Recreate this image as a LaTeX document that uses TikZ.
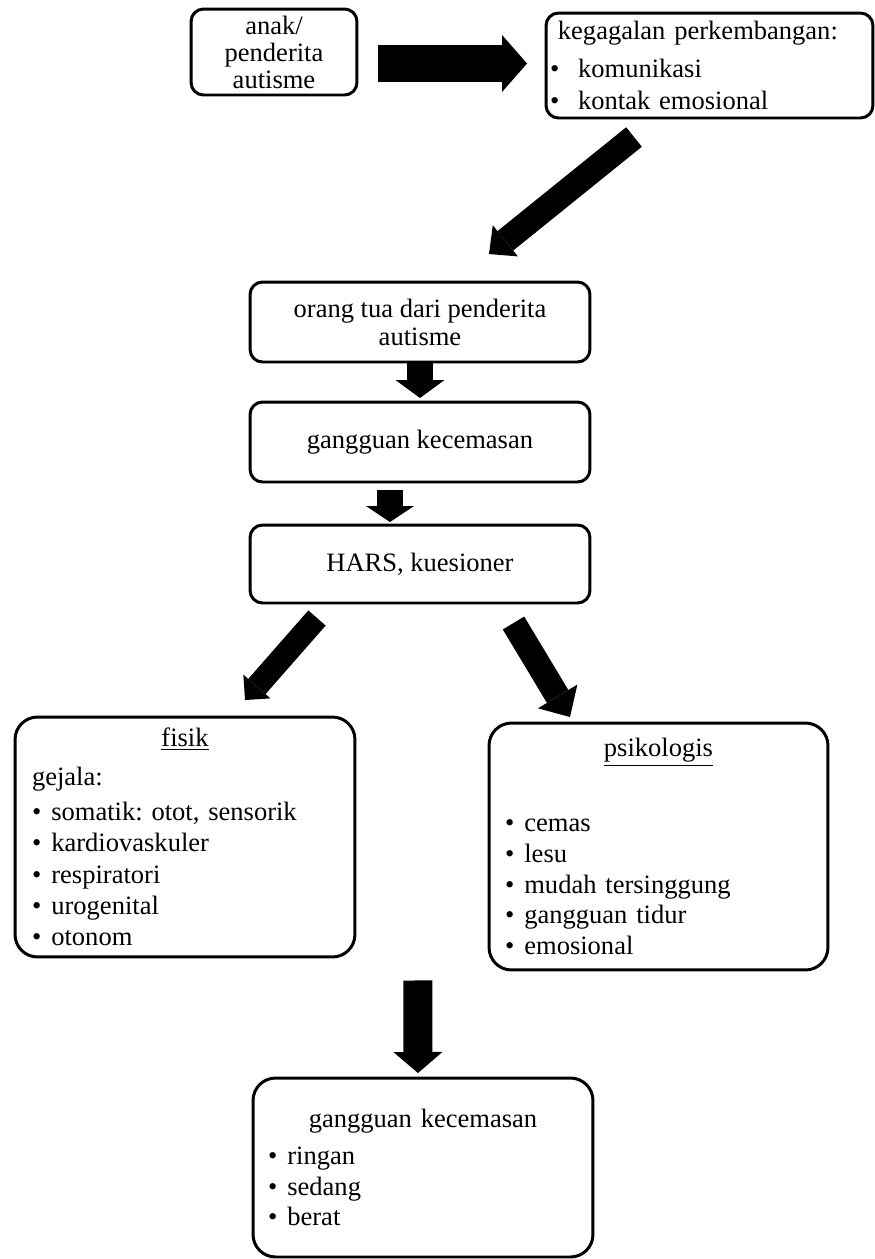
\documentclass[tikz,border=0pt]{standalone}
\usepackage{fontspec}
\setmainfont{Liberation Serif}
\usetikzlibrary{arrows.meta, calc}

\newcommand{\bul}[1][11pt]{\makebox[#1][l]{\textbullet}}
\frenchspacing

\begin{document}
\begin{tikzpicture}[x=0.02cm, y=-0.02cm,
    box/.style={draw, line width=1.7pt, rounded corners=0.25cm, outer sep=0pt, inner sep=0pt,
        font=\fontsize{15.1}{15.9}\selectfont},
    bigbox/.style={box, rounded corners=0.45cm},
    blockarrow/.style n args={3}{line width=#1, -{Triangle[length=#3, width=#2, line width=0pt]}}]
        \useasboundingbox (0,0) rectangle (875,1259);

        % top row
        \node[box, align=center, minimum width=3.32cm, minimum height=1.72cm,
            font=\fontsize{15.1}{15.4}\selectfont] (anak) at (274,52) {anak/\\penderita\\autisme};
        \node[box, align=left, text width=6.38cm, inner xsep=0.08cm, minimum height=2.1cm,
            font=\fontsize{15.1}{18.2}\selectfont] (gagal) at (709.5,65.5)
            {\hspace*{4.5pt}kegagalan perkembangan:\\[3.4pt]\bul[16pt]komunikasi\\\bul[16pt]kontak emosional};

        % middle column
        \node[box, align=center, minimum width=6.8cm, minimum height=1.6cm] (ortu) at (420,322) {orang tua dari penderita\\autisme};
        \node[box, minimum width=6.8cm, minimum height=1.6cm] (cemas) at (420,442) {gangguan kecemasan};
        \node[box, minimum width=6.8cm, minimum height=1.56cm] (hars) at (420,564) {HARS, kuesioner};

        % fisik
        \node[bigbox, align=left, text width=6.12cm, inner xsep=0.34cm, minimum height=4.8cm,
            font=\fontsize{15.1}{17.8}\selectfont] (fisik) at (185,837)
            {\makebox[\hsize]{\underline{fisik}}\\[4.4pt]gejala:\\[2.1pt]\bul somatik: otot, sensorik\\\bul kardiovaskuler\\\bul respiratori\\\bul urogenital\\\bul otonom};

        % psikologis
        \node[bigbox, align=left, text width=6.14cm, inner xsep=0.32cm, minimum height=4.94cm,
            font=\fontsize{15.1}{17.4}\selectfont] (psiko) at (658.5,846.5)
            {\makebox[\hsize]{\underline{psikologis}}\\[25.3pt]\bul cemas\\\bul lesu\\\bul mudah tersinggung\\\bul gangguan tidur\\\bul emosional};

        % hasil
        \node[bigbox, align=left, text width=6.2cm, inner xsep=0.3cm, minimum height=3.58cm,
            font=\fontsize{15.1}{17.6}\selectfont] (hasil) at (423,1167.5)
            {\makebox[\hsize]{gangguan kecemasan}\\[3.4pt]\bul ringan\\\bul sedang\\\bul berat};

        % arrows
        \draw[blockarrow={0.74cm}{1.14cm}{0.5cm}] ([shift={(21,11.5)}]anak.east) -- ([shift={(-19,-2)}]gagal.west);
        \draw[blockarrow={0.5cm}{0.8cm}{0.42cm}] ([shift={(-75.5,19)}]gagal.south) -- ([shift={(69,-28)}]ortu.north);
        \draw[blockarrow={0.52cm}{0.98cm}{0.36cm}] ([shift={(0,1)}]ortu.south) -- ([shift={(0,-4)}]cemas.north);
        \draw[blockarrow={0.52cm}{0.96cm}{0.32cm}] ([shift={(-30,8)}]cemas.south) -- ([shift={(-30,-3)}]hars.north);
        \draw[blockarrow={0.46cm}{0.72cm}{0.36cm}] ([shift={(-103,15)}]hars.south) -- ([shift={(60,-17)}]fisik.north);
        \draw[blockarrow={0.5cm}{0.92cm}{0.48cm}] ([shift={(93.5,20)}]hars.south) -- ([shift={(-88.5,-6)}]psiko.north);
        \draw[blockarrow={0.58cm}{0.98cm}{0.42cm}] ($(fisik.south)!0.5!(psiko.south)+(-4,17)$) -- ([shift={(-5,-5)}]hasil.north);
\end{tikzpicture}
\end{document}
